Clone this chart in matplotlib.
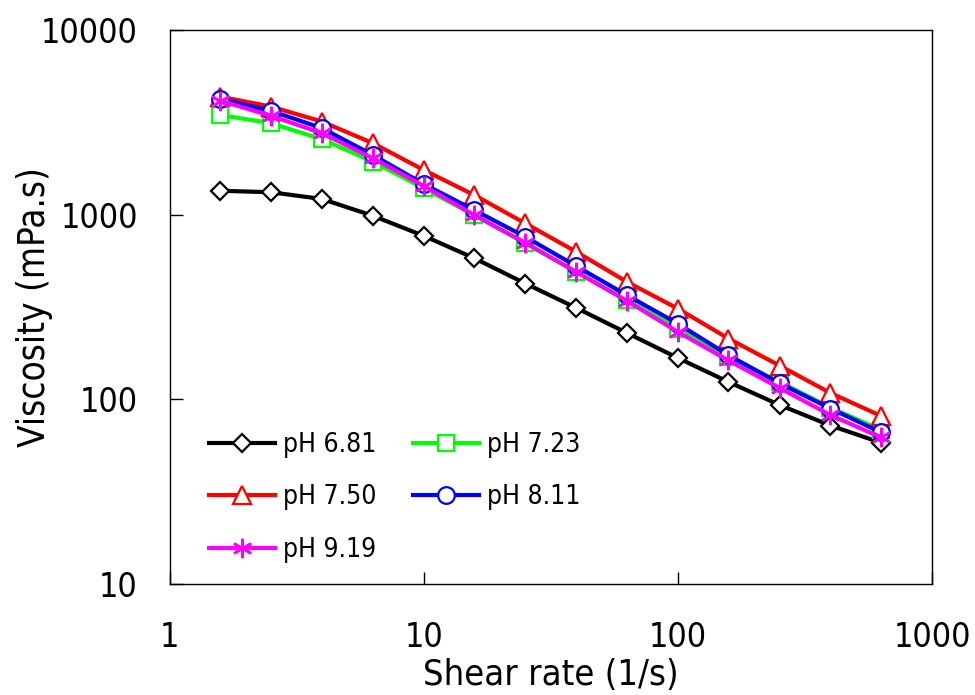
import numpy as np
import matplotlib.pyplot as plt

shear = [1.58, 2.51, 3.98, 6.31, 10, 15.8, 25.1, 39.8, 63.1, 100, 158, 251, 398, 631]

ph681 = [1345, 1320, 1213, 984, 766, 580, 423, 312, 228, 167, 124, 93, 72, 58]
ph723 = [3460, 3120, 2553, 1932, 1386, 993, 697, 489, 343, 241, 169, 124, 90, 68]
ph750 = [4350, 3840, 3184, 2432, 1741, 1274, 895, 628, 431, 309, 213, 152, 108, 81]
ph811 = [4227, 3640, 2933, 2100, 1462, 1056, 757, 525, 365, 256, 173, 122, 89, 66]
ph919 = [4140, 3420, 2754, 2015, 1426, 993, 702, 489, 340, 231, 162, 115, 82, 62]

plt.rcParams['font.family'] = ['DejaVu Sans']
plt.rcParams['font.stretch'] = 'condensed'

fig = plt.figure(figsize=(9.75, 6.95), dpi=100)
ax = fig.add_axes([0.174, 0.16, 0.782, 0.797])

lw = 3
h1, = ax.plot(shear, ph681, color='black', lw=lw, marker='D', ms=9.5, mfc='white',
              mec='black', mew=1.6, label='pH 6.81')
h2, = ax.plot(shear, ph723, color='#00ff00', lw=lw, marker='s', ms=12, mfc='white',
              mec='#00ff00', mew=1.6, label='pH 7.23')
h3, = ax.plot(shear, ph750, color='red', lw=lw, marker='^', ms=13.5, mfc='white',
              mec='red', mew=1.6, label='pH 7.50')
h4, = ax.plot(shear, ph811, color='blue', lw=lw, marker='o', ms=12, mfc='white',
              mec='blue', mew=1.6, label='pH 8.11')
h5, = ax.plot(shear, ph919, color='#ff00ff', lw=lw, marker=(6, 2, 0), ms=14,
              mec='#ff00ff', mew=1.8, label='pH 9.19')

ax.set_xscale('log')
ax.set_yscale('log')
ax.set_xlim(1, 1000)
ax.set_ylim(10, 10000)
ax.minorticks_off()
ax.set_xticks([1, 10, 100, 1000])
ax.set_xticklabels(['1', '10', '100', '1000'])
ax.set_yticks([10, 100, 1000, 10000])
ax.set_yticklabels(['10', '100', '1000', '10000'])
ax.tick_params(direction='in', length=9, width=1, labelsize=24.5)
ax.tick_params(axis='x', pad=26.5)
ax.tick_params(axis='y', pad=23)
for s in ax.spines.values():
    s.set_linewidth(1)

ax.set_xlabel('Shear rate (1/s)', fontsize=26, labelpad=3)
ax.set_ylabel('Viscosity (mPa.s)', fontsize=26.5, labelpad=-9)

ax.legend([h1, h3, h5, h2, h4], ['pH 6.81', 'pH 7.50', 'pH 9.19', 'pH 7.23', 'pH 8.11'],
          ncol=2, loc='lower left', bbox_to_anchor=(0.02, -0.005), frameon=False,
          fontsize=19, handlelength=2.5, handletextpad=0.3, columnspacing=1.4,
          labelspacing=1.0)

fig.savefig('out.png', dpi=100)
